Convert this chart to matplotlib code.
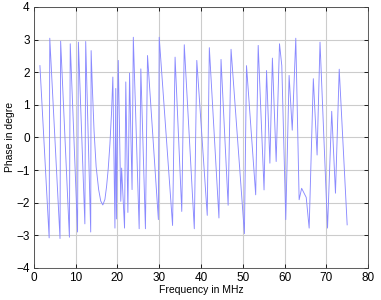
import matplotlib
matplotlib.use("Agg")
import matplotlib.pyplot as plt

freq_mhz = [1.44, 3.65, 3.8, 6.25, 6.4, 8.5, 8.7, 10.45, 10.65, 12.2, 12.4, 13.6, 13.7,
            14.0, 14.4, 14.9, 15.5, 16.0, 16.5, 17.0, 17.4, 17.8, 18.2, 18.6,
            18.9, 19.4, 19.6, 19.75, 20.2, 20.8, 21.0, 21.7, 22.0, 22.5, 22.9, 23.5, 23.8,
            25.2, 25.6, 26.7, 27.2, 29.8, 30.0, 33.2, 33.8, 35.4, 36.0, 38.4, 39.0,
            41.5, 42.0, 44.3, 44.8, 46.5, 47.2, 50.4, 50.9, 53.1, 53.7, 55.1, 55.7,
            56.5, 57.1, 58.0, 58.8, 59.35, 60.3, 61.1, 61.85, 62.7, 63.5, 64.1, 65.2,
            65.9, 66.9, 67.8, 68.5, 70.3, 71.3, 72.2, 73.1, 75.0]
phase = [2.2, -3.08, 3.04, -3.1, 2.95, -3.06, 2.87, -2.9, 2.92, -2.65, 2.94, -2.9, 2.66,
         1.5, 0.2, -0.9, -1.6, -1.95, -2.07, -1.9, -1.5, -0.95, -0.2, 0.8,
         1.85, -2.78, 1.5, -2.5, 2.36, -1.96, -0.94, -2.78, 1.7, -2.3, 1.97, -1.6, 3.07,
         -2.8, 2.1, -2.8, 2.51, -2.52, 3.07, -2.7, 2.46, -2.27, 2.84, -2.8, 2.36,
         -2.39, 2.75, -2.47, 2.39, -2.08, 2.7, -2.95, 2.2, -1.76, 2.82, -1.61, 2.05,
         -0.79, 2.43, -0.74, 2.87, 2.2, -2.52, 1.9, 0.22, 3.04, -1.91, -1.56, -1.84,
         -2.78, 1.8, -0.54, 2.92, -2.78, 0.8, -1.71, 2.09, -2.68]

x_ticks = [0, 10, 20, 30, 40, 50, 60, 70, 80]
y_ticks = [-4, -3, -2, -1, 0, 1, 2, 3, 4]

plt.rcParams['font.family'] = ['Liberation Sans', 'DejaVu Sans']

fig = plt.figure(figsize=(3.81, 3.0), dpi=100)
ax = fig.add_axes([0.089, 0.107, 0.877, 0.870])
ax.plot(freq_mhz, phase, color='#8a8aff', linewidth=0.65)
ax.set_xlim(0, 80)
ax.set_ylim(-4, 4)
ax.set_xticks(x_ticks)
ax.set_yticks(y_ticks)
ax.grid(True, color='#cccccc', linewidth=0.8, linestyle='-')
ax.set_axisbelow(True)
ax.tick_params(direction='in', length=3, labelsize=8.5, width=0.6, top=True, right=True,
               labeltop=False, labelright=False, pad=3)
for s in ax.spines.values():
    s.set_linewidth(0.6)
    s.set_color('#444444')
ax.set_xlabel('Frequency in MHz', fontsize=7.5, labelpad=1)
ax.set_ylabel('Phase in degre', fontsize=7.5)
ax.yaxis.set_label_coords(-0.058, 0.5)
fig.savefig('out.png', dpi=100)
